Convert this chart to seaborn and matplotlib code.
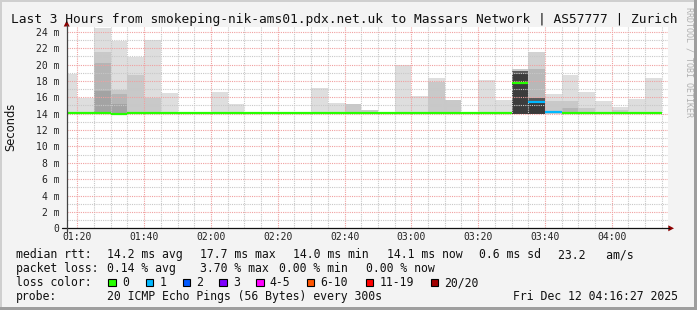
import numpy as np
import matplotlib
matplotlib.use("Agg")
import matplotlib.pyplot as plt
import seaborn as sns
from matplotlib.patches import Rectangle, Polygon
from matplotlib.lines import Line2D

# ---------------- data ----------------
title = "Last 3 Hours from smokeping-nik-ams01.pdx.net.uk to Massars Network | AS57777 | Zurich"
y_label = "Seconds"
window_start = "01:16:48"
window_end = "04:16:45"
step_minutes = 5

interval_starts = ["01:15", "01:20", "01:25", "01:30", "01:35", "01:40", "01:45", "01:50", "01:55",
                   "02:00", "02:05", "02:10", "02:15", "02:20", "02:25", "02:30", "02:35", "02:40",
                   "02:45", "02:50", "02:55", "03:00", "03:05", "03:10", "03:15", "03:20", "03:25",
                   "03:30", "03:35", "03:40", "03:45", "03:50", "03:55", "04:00", "04:05", "04:10"]
nan = np.nan
# smoke bands (ms): outermost (max) to innermost
smoke_max = [18.8, 15.9, 24.5, 22.9, 20.9, 23.0, 16.5, nan, nan,
             16.6, 15.2, nan, nan, nan, nan, 17.1, 15.3, 15.2,
             14.5, nan, 20.0, 16.2, 18.3, 15.7, nan, 18.1, 15.7,
             19.5, 21.5, 16.4, 18.7, 16.6, 15.6, 14.8, 15.8, 18.3]
smoke_q2 = [nan, nan, 21.5, 16.9, 18.75, 15.9, nan, nan, nan,
            nan, nan, nan, nan, nan, nan, nan, nan, 15.2,
            14.5, nan, nan, nan, 17.9, 15.7, nan, nan, nan,
            19.2, 19.4, 15.6, 15.6, 14.7, nan, 14.5, nan, nan]
smoke_q3 = [nan, nan, 20.2, 16.4, nan, nan, nan, nan, nan,
            nan, nan, nan, nan, nan, nan, nan, nan, nan,
            nan, nan, nan, nan, nan, nan, nan, nan, nan,
            18.9, 15.9, nan, 14.7, nan, nan, nan, nan, nan]
smoke_q4 = [nan, nan, 16.8, 15.2, nan, nan, nan, nan, nan,
            nan, nan, nan, nan, nan, nan, nan, nan, nan,
            nan, nan, nan, nan, nan, nan, nan, nan, nan,
            nan, 15.6, nan, nan, nan, nan, nan, nan, nan]
min_rtt = 14.0
median_rtt = [14.1, 14.1, 14.1, 14.0, 14.1, 14.1, 14.1, 14.1, 14.1,
              14.1, 14.1, 14.1, 14.1, 14.1, 14.1, 14.1, 14.1, 14.1,
              14.1, 14.1, 14.1, 14.1, 14.1, 14.1, 14.1, 14.1, 14.1,
              17.8, 15.4, 14.2, 14.1, 14.1, 14.1, 14.1, 14.1, 14.1]
lost_pings = [0, 0, 0, 0, 0, 0, 0, 0, 0,
              0, 0, 0, 0, 0, 0, 0, 0, 0,
              0, 0, 0, 0, 0, 0, 0, 0, 0,
              0, 1, 1, 0, 0, 0, 0, 0, 0]

x_tick_labels = ["01:20", "01:40", "02:00", "02:20", "02:40", "03:00", "03:20", "03:40", "04:00"]
y_ticks = [0, 2, 4, 6, 8, 10, 12, 14, 16, 18, 20, 22, 24]
y_tick_labels = ["0", "2 m", "4 m", "6 m", "8 m", "10 m", "12 m", "14 m", "16 m", "18 m", "20 m", "22 m", "24 m"]
y_max = 24.58

loss_labels = ["0", "1", "2", "3", "4-5", "6-10", "11-19", "20/20"]
loss_upper = [0, 1, 2, 3, 5, 10, 19, 20]
loss_colors = ["#26ff00", "#00b8ff", "#0059ff", "#7e00ff", "#ff00ff", "#ff5500", "#ff0000", "#a10000"]

row_rtt = [("median rtt:", 16), ("14.2 ms avg", 107.3), ("17.7 ms max", 200), ("14.0 ms min", 293.3),
           ("14.1 ms now", 387), ("0.6 ms sd", 479.3), ("23.2   am/s", 558.3)]
row_loss = [("packet loss:", 16), ("0.14 % avg", 107.3), ("3.70 % max", 200), ("0.00 % min", 279.3),
            ("0.00 % now", 365.7)]
row_probe = [("probe:", 16), ("20 ICMP Echo Pings (56 Bytes) every 300s", 107.3),
             ("Fri Dec 12 04:16:27 2025", 513.3)]
loss_color_label = "loss color:"
swatch_x = [108.3, 145.7, 182.7, 219.3, 256, 306.7, 365.7, 430.7]
watermark = "RRDTOOL / TOBI OETIKER"

# ---------------- style ----------------
W, H = 697, 310
band_shades = ["#dedede", "#c9c9c9", "#b5b5b5", "#a3a3a3"]
shade_override = {(27, 0): "#c8c8c8", (27, 1): "#585858", (27, 2): "#3c3c3c",
                  (28, 0): "#d2d2d2", (28, 1): "#b8b8b8", (28, 2): "#5a5a5a", (28, 3): "#3a3a3a"}
mono = "DejaVu Sans Mono"


def to_min(s):
    parts = [int(p) for p in s.split(":")]
    return parts[0] * 60 + parts[1] + (parts[2] / 60 if len(parts) > 2 else 0)


def fx(px):
    return px / W


def fy(py):
    return 1 - py / H


sns.set_style("white")
plt.rcParams["font.family"] = ["DejaVu Sans"]

fig = plt.figure(figsize=(W / 100, H / 100), dpi=100, facecolor="#f3f3f3")
ax_left, ax_right, ax_top, ax_bottom = 66.7, 667.7, 27.0, 228.3
ax = fig.add_axes([fx(ax_left), fy(ax_bottom), (ax_right - ax_left) / W, (ax_bottom - ax_top) / H])
ax.set_facecolor("white")

t0, t1 = to_min(window_start), to_min(window_end)
ax.set_xlim(t0, t1)
ax.set_ylim(0, y_max)

starts = np.array([to_min(s) for s in interval_starts])

# smoke
for level, arr in enumerate([smoke_max, smoke_q2, smoke_q3, smoke_q4]):
    arr = np.array(arr, dtype=float)
    for k in range(len(starts)):
        if np.isfinite(arr[k]):
            shade = shade_override.get((k, level), band_shades[level])
            ax.bar(starts[k], arr[k] - min_rtt, bottom=min_rtt, width=step_minutes, align="edge",
                   color=shade, linewidth=0, zorder=1 + level * 0.1)

# grid (on top of smoke)
g = np.arange(np.ceil(t0 / 5) * 5, t1, 5)
for t in g:
    major = int(round(t)) % 20 == 0
    ax.axvline(t, color="#f0a0a0" if major else "#c8c8c8", lw=0.8, ls=(0, (1, 1)), zorder=3)
for v in range(1, int(y_max) + 1):
    major = v % 2 == 0
    ax.axhline(v, color="#f0a0a0" if major else "#c8c8c8", lw=0.8, ls=(0, (1, 1)), zorder=3)

# median line coloured by loss
for k in range(len(starts)):
    ci = next(i for i, u in enumerate(loss_upper) if lost_pings[k] <= u)
    ax.hlines(median_rtt[k], starts[k], starts[k] + step_minutes, colors=loss_colors[ci],
              lw=1.6, zorder=5)

# ticks
ax.set_xticks([to_min(s) for s in x_tick_labels])
ax.set_xticklabels(x_tick_labels, fontfamily=mono, fontsize=7, color="#222222")
ax.set_yticks(y_ticks)
ax.set_yticklabels(y_tick_labels, fontfamily=mono, fontsize=7, color="#222222")
ax.tick_params(axis="x", length=0, pad=3)
ax.tick_params(axis="y", length=0, pad=5.2)
for s in ax.spines.values():
    s.set_visible(False)

# axes lines and arrows (figure pixel coords)
fig.add_artist(Line2D([fx(62), fx(669)], [fy(ax_bottom), fy(ax_bottom)], color="#111111", lw=0.9))
fig.add_artist(Line2D([fx(ax_left), fx(ax_left)], [fy(ax_bottom + 4), fy(25)], color="#444444", lw=0.9))
fig.add_artist(Polygon([[fx(668.3), fy(225.3)], [fx(668.3), fy(231.3)], [fx(674), fy(228.3)]],
                       closed=True, color="#8b0000", lw=0))
fig.add_artist(Polygon([[fx(63.7), fy(26.5)], [fx(69.7), fy(26.5)], [fx(66.7), fy(20.5)]],
                       closed=True, color="#8b0000", lw=0))

# title, y label, watermark
fig.text(fx(344), fy(22.5), title, ha="center", va="baseline", fontfamily=mono, fontsize=9.3, color="#111111")
fig.text(fx(10.5), fy(127), y_label, rotation=90, ha="center", va="center", fontsize=8.3, color="#111111")
fig.text(fx(689.5), fy(62), watermark, rotation=-90, ha="center", va="center", fontfamily=mono,
         fontsize=6.0, color="#b0b0b0")

# legend rows
for row, base in [(row_rtt, 258.3), (row_loss, 272.3), (row_probe, 300)]:
    for txt, x in row:
        fig.text(fx(x), fy(base), txt, ha="left", va="baseline", fontfamily=mono, fontsize=8.3, color="#111111")
fig.text(fx(16), fy(286), loss_color_label, ha="left", va="baseline", fontfamily=mono, fontsize=8.3, color="#111111")
for sx, lab, col in zip(swatch_x, loss_labels, loss_colors):
    fig.add_artist(Rectangle((fx(sx), fy(286)), 7.5 / W, 7.5 / H, facecolor=col, edgecolor="black", lw=0.8))
    fig.text(fx(sx + 13.5), fy(286), lab, ha="left", va="baseline", fontfamily=mono, fontsize=8.3, color="#111111")

# frame
fig.add_artist(Rectangle((0, fy(2)), 1, 2 / H, facecolor="#cfcfcf", lw=0))
fig.add_artist(Rectangle((0, 0), 2 / W, 1, facecolor="#cfcfcf", lw=0))
fig.add_artist(Rectangle((0, 0), 1, 3 / H, facecolor="#9e9e9e", lw=0))
fig.add_artist(Rectangle((fx(W - 3), 0), 3 / W, 1, facecolor="#9e9e9e", lw=0))

fig.savefig("out.png", dpi=100, facecolor=fig.get_facecolor())
